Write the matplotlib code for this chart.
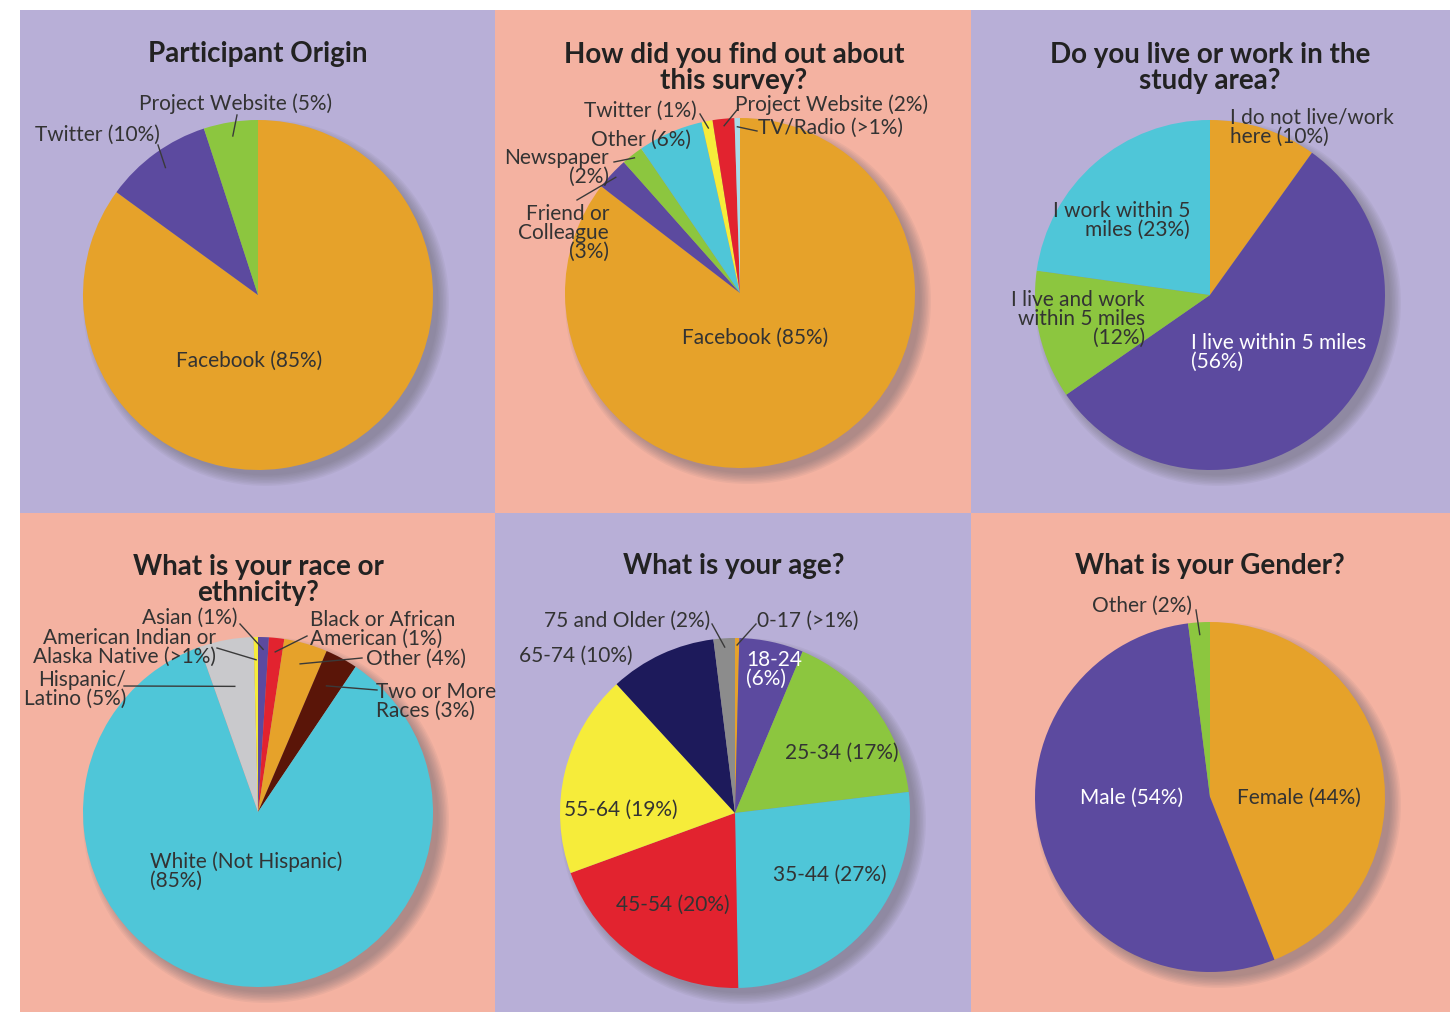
import numpy as np
import matplotlib
matplotlib.use("Agg")
import matplotlib.pyplot as plt
from matplotlib.patches import Rectangle, Circle

plt.rcParams['font.family'] = ['Lato', 'DejaVu Sans']

W, H = 1454, 1013

# ---- data (clockwise from 12 o'clock) ----
origin_labels = ["Facebook", "Twitter", "Project Website"]
origin_values = [85, 10, 5]

found_labels = ["Facebook", "Friend or Colleague", "Newspaper", "Other", "Twitter",
                "Project Website", "TV/Radio"]
found_values = [85, 3, 2, 6, 1, 2, 0.5]

area_labels = ["I do not live/work here", "I live within 5 miles",
               "I live and work within 5 miles", "I work within 5 miles"]
area_values = [10, 56, 12, 23]

race_labels = ["Asian", "Black or African American", "Other", "Two or More Races",
               "White (Not Hispanic)", "Hispanic/Latino", "American Indian or Alaska Native"]
race_values = [1, 1.4, 4, 3, 85, 5, 0.4]

age_labels = ["0-17", "18-24", "25-34", "35-44", "45-54", "55-64", "65-74", "75 and Older"]
age_values = [0.4, 6, 17, 27, 20, 19, 10, 2]

gender_labels = ["Female", "Male", "Other"]
gender_values = [44, 54, 2]

# ---- colours ----
LAV = '#b8afd7'
SAL = '#f4b2a1'
ORANGE = '#e6a22a'
PURPLE = '#5c4a9f'
GREEN = '#8cc63f'
CYAN = '#4fc6d8'
YELLOW = '#f6ec3a'
RED = '#e2232f'
NAVY = '#1d1a5b'
GREY = '#8c8c8c'
LGREY = '#c9c9cc'
BROWN = '#5a1508'
LBLUE = '#a9dbe9'
TXT = '#333333'

fig = plt.figure(figsize=(W / 100, H / 100), dpi=100)
ax = fig.add_axes([0, 0, 1, 1])


def Y(y):
    return H - y


# panel backgrounds
cols = [20, 495, 971, 1450]
rows = [10, 513, 1012]
bg = [[LAV, SAL, LAV], [SAL, LAV, SAL]]
for r in range(2):
    for c in range(3):
        ax.add_patch(Rectangle((cols[c], Y(rows[r + 1])), cols[c + 1] - cols[c],
                               rows[r + 1] - rows[r], color=bg[r][c], lw=0, zorder=0))


def mid_point(values, i, cx, cy, rad, f):
    tot = sum(values)
    start = 90 - 360 * sum(values[:i]) / tot
    ang = np.radians(start - 180 * values[i] / tot)
    return cx + f * rad * np.cos(ang), Y(cy) + f * rad * np.sin(ang)


def draw_pie(values, colors, cx, cy, rad=175):
    # soft shadow
    for k in range(8):
        ax.add_patch(Circle((cx + 8, Y(cy) - 8), rad + 8 - k * 1.5,
                            color='#6a6670', alpha=0.08, lw=0, zorder=1))
    ax.pie(values, colors=colors, startangle=90, counterclock=False,
           center=(cx, Y(cy)), radius=rad, wedgeprops=dict(lw=0, zorder=2))


def label(s, x, y, ha='center', color=TXT, size=15):
    ax.text(x, Y(y), s, ha=ha, va='center', color=color, fontsize=size,
            linespacing=0.92, zorder=5)


def leader(x0, y0, values, i, cx, cy, f=0.92, rad=175):
    x1, y1 = mid_point(values, i, cx, cy, rad, f)
    ax.plot([x0, x1], [Y(y0), y1], color='#3a3a3a', lw=1, zorder=4)


def title(s, x, y):
    ax.text(x, Y(y), s, ha='center', va='center', fontsize=20, fontweight='bold',
            color='#222222', linespacing=0.98, zorder=5)


# ---- Participant Origin ----
cx, cy = 258, 295
draw_pie(origin_values, [ORANGE, PURPLE, GREEN], cx, cy)
title("Participant Origin", cx, 54)
label("Facebook (85%)", 249, 361)
label("Twitter (10%)", 160, 135, ha='right')
leader(158, 145, origin_values, 1, cx, cy, 0.9)
label("Project Website (5%)", 236, 104)
leader(237, 115, origin_values, 2, cx, cy, 0.92)

# ---- How did you find out ----
cx, cy = 740, 293
draw_pie(found_values, [ORANGE, PURPLE, GREEN, CYAN, YELLOW, RED, LBLUE], cx, cy)
title("How did you find out about\nthis survey?", 734, 68)
label("Facebook (85%)", 755, 338)
label("Twitter (1%)", 697, 111, ha='right')
leader(700, 114, found_values, 4, cx, cy, 0.96)
label("Project Website (2%)", 735, 105, ha='left')
leader(737, 110, found_values, 5, cx, cy, 0.96)
label("TV/Radio (>1%)", 758, 128, ha='left')
leader(757, 131, found_values, 6, cx, cy, 0.95)
label("Other (6%)", 691, 140, ha='right')
label("Newspaper\n(2%)", 609, 167, ha='right')
leader(614, 162, found_values, 2, cx, cy, 0.98)
label("Friend or\nColleague\n(3%)", 609, 233, ha='right')
leader(577, 200, found_values, 1, cx, cy, 0.97)

# ---- Do you live or work ----
cx, cy = 1210, 295
draw_pie(area_values, [ORANGE, PURPLE, GREEN, CYAN], cx, cy)
title("Do you live or work in the\nstudy area?", 1210, 68)
label("I do not live/work\nhere (10%)", 1230, 127, ha='left')
label("I live within 5 miles\n(56%)", 1191, 352, ha='left', color='white')
label("I live and work\nwithin 5 miles\n(12%)", 1145, 319, ha='right')
label("I work within 5\nmiles (23%)", 1190, 220, ha='right')

# ---- Race ----
cx, cy = 258, 812
draw_pie(race_values, [PURPLE, RED, ORANGE, BROWN, CYAN, LGREY, YELLOW], cx, cy)
title("What is your race or\nethnicity?", 258, 580)
label("White (Not Hispanic)\n(85%)", 150, 871, ha='left')
label("Asian (1%)", 238, 618, ha='right')
leader(240, 624, race_values, 0, cx, cy, 0.93)
label("Black or African\nAmerican (1%)", 310, 629, ha='left')
leader(307, 636, race_values, 1, cx, cy, 0.92)
label("American Indian or\nAlaska Native (>1%)", 216, 647, ha='right')
leader(217, 648, race_values, 6, cx, cy, 0.87)
label("Other (4%)", 366, 659, ha='left')
leader(362, 658, race_values, 2, cx, cy, 0.88)
label("Hispanic/\nLatino (5%)", 126, 689, ha='right')
leader(124, 686, race_values, 5, cx, cy, 0.73)
label("Two or More\nRaces (3%)", 376, 701, ha='left')
leader(377, 690, race_values, 3, cx, cy, 0.82)

# ---- Age ----
cx, cy = 735, 813
draw_pie(age_values, [ORANGE, PURPLE, GREEN, CYAN, RED, YELLOW, NAVY, GREY], cx, cy)
title("What is your age?", 734, 566)
label("75 and Older (2%)", 710, 621, ha='right')
leader(712, 624, age_values, 7, cx, cy, 0.95)
label("0-17 (>1%)", 757, 621, ha='left')
leader(756, 624, age_values, 0, cx, cy, 0.96)
label("65-74 (10%)", 576, 656)
label("18-24\n(6%)", 746, 669, ha='left', color='white')
label("25-34 (17%)", 842, 753)
label("35-44 (27%)", 830, 875)
label("45-54 (20%)", 673, 905)
label("55-64 (19%)", 621, 810)

# ---- Gender ----
cx, cy = 1210, 797
draw_pie(gender_values, [ORANGE, PURPLE, GREEN], cx, cy)
title("What is your Gender?", 1210, 566)
label("Other (2%)", 1192, 606, ha='right')
leader(1196, 610, gender_values, 2, cx, cy, 0.93)
label("Male (54%)", 1132, 798, color='white')
label("Female (44%)", 1299, 798)

ax.set_xlim(0, W)
ax.set_ylim(0, H)
ax.set_aspect('auto')
ax.axis('off')
fig.savefig("out.png", dpi=100, facecolor='white')
